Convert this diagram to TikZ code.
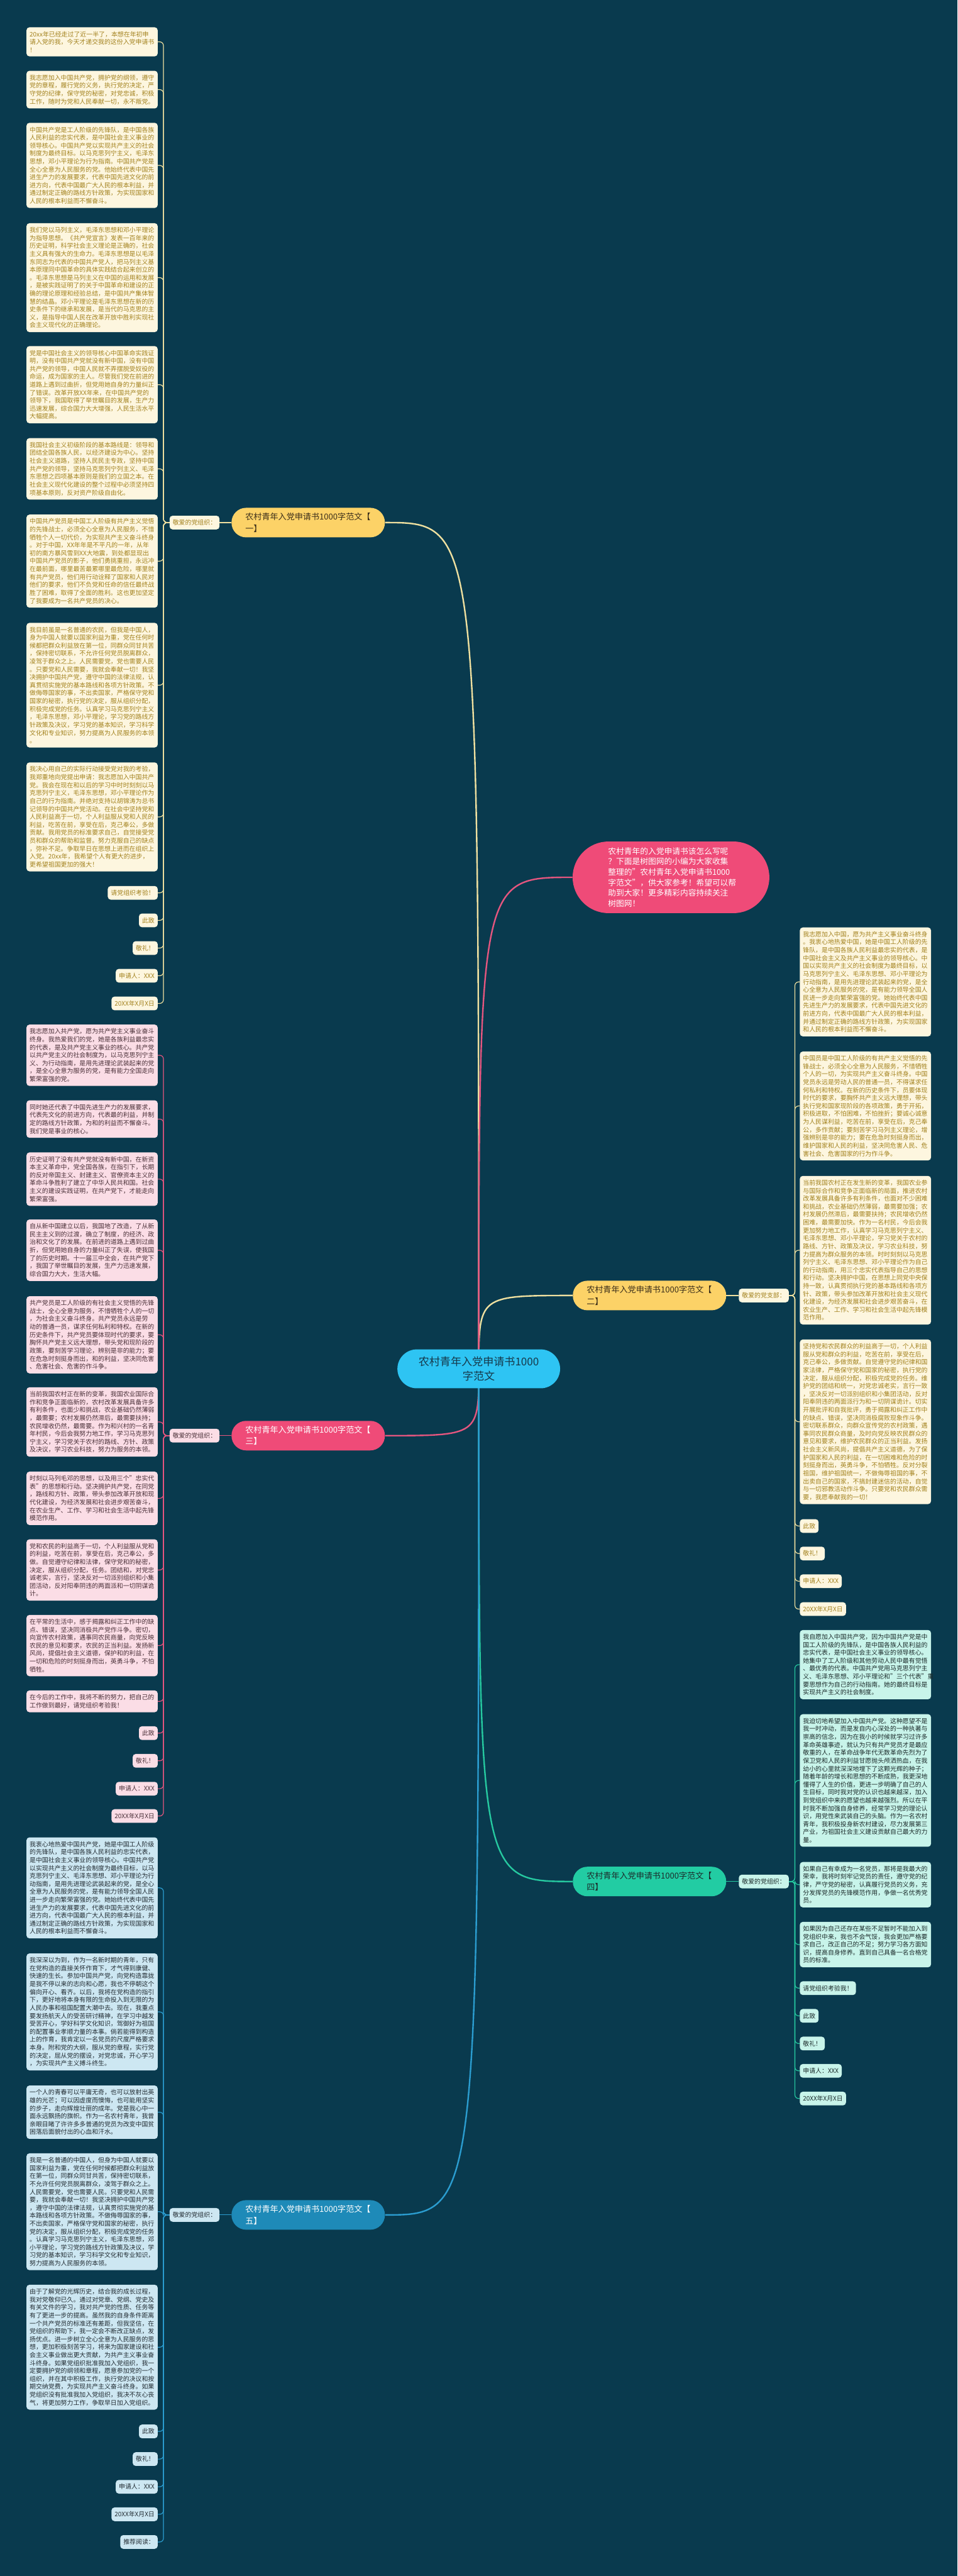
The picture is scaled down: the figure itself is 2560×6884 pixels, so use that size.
\documentclass[tikz,border=0pt]{standalone}
\usepackage{fontspec}
\setmainfont{Noto Sans CJK SC}
\setlength{\parindent}{0pt}
\definecolor{bgc}{HTML}{093A4E}
\definecolor{ylab}{HTML}{FCD267}
\definecolor{ylabtx}{HTML}{3B2E1A}
\definecolor{yline}{HTML}{EFE0A0}
\definecolor{ybox}{HTML}{FDF6DF}
\definecolor{ytx}{HTML}{A3821E}
\definecolor{plab}{HTML}{EF4B78}
\definecolor{pline}{HTML}{E5567F}
\definecolor{pbox}{HTML}{FBDDE6}
\definecolor{ptx}{HTML}{4A3038}
\definecolor{glab}{HTML}{22CCA3}
\definecolor{gline}{HTML}{26C9A0}
\definecolor{gbox}{HTML}{C8F4EA}
\definecolor{gtx}{HTML}{1C2B2B}
\definecolor{blab}{HTML}{1E8AB8}
\definecolor{bline}{HTML}{2B9DD0}
\definecolor{bbox}{HTML}{CDE7F2}
\definecolor{btx}{HTML}{222C33}
\definecolor{cfill}{HTML}{2EC4F3}
\definecolor{ctx}{HTML}{16384A}
\pgfdeclarelayer{bgl}
\pgfdeclarelayer{mid}
\pgfsetlayers{bgl,mid,main}
\tikzset{
  every node/.style={font=\fontsize{8.33pt}{10.6pt}\selectfont},
  para/.style={rounded corners=4pt, inner xsep=4.2pt, inner ysep=5.3pt, text width=167pt, align=left},
  tiny/.style={rounded corners=4pt, inner xsep=4.2pt, inner ysep=5.3pt},
  ysty/.style={fill=ybox, text=ytx},
  psty/.style={fill=pbox, text=ptx},
  gsty/.style={fill=gbox, text=gtx},
  bsty/.style={fill=bbox, text=btx},
  lab/.style={rounded corners=19.5pt, inner xsep=18.5pt, inner ysep=6.5pt, text width=168pt, align=left, minimum height=39.5pt, font=\fontsize{11pt}{15.5pt}\selectfont},
  sub/.style={rounded corners=4pt, inner xsep=4.2pt, inner ysep=5.3pt},
  kid/.style={line width=1pt, rounded corners=5pt},
  big/.style={line width=2pt},
}
\begin{document}
\begin{tikzpicture}[x=0.5pt,y=-0.5pt]
\begin{pgfonlayer}{bgl}
\fill[bgc] (0,0) rectangle (2560,6884);
\end{pgfonlayer}
\useasboundingbox (0,0) rectangle (2560,6884);

% central
\node[fill=cfill, text=ctx, rounded corners=26pt, minimum width=217.5pt, minimum height=52pt, align=center, font=\fontsize{14.35pt}{19pt}\selectfont] (c) at (1280,3658) {农村青年入党申请书1000\\字范文};

% top pink note
\node[fill=plab, text=white, rounded corners=48pt, text width=168pt, inner xsep=47.5pt, inner ysep=7.9pt, align=left, font=\fontsize{10.7pt}{14pt}\selectfont] (top) at (1794,2344.5) {农村青年的入党申请书该怎么写呢\\？下面是树图网的小编为大家收集\\整理的"农村青年入党申请书1000\\字范文"，供大家参考！希望可以帮\\助到大家！更多精彩内容持续关注\\树图网！};

% ================= branch 1 =================
\node[lab, fill=ylab, text=ylabtx] (l1) at (824,1396.5) {农村青年入党申请书1000字范文【\\一】};
\node[sub, ysty, anchor=west] (s1) at (453,1396.5) {敬爱的党组织：};
\node[para, ysty, anchor=east] (a1) at (422,111.8) {20xx年已经走过了近一半了，本想在年初申\\请入党的我，今天才递交我的这份入党申请书\\！};
\node[para, ysty, anchor=east] (a2) at (422,239.5) {我志愿加入中国共产党，拥护党的纲领，遵守\\党的章程，履行党的义务，执行党的决定，严\\守党的纪律，保守党的秘密，对党忠诚，积极\\工作，随时为党和人民奉献一切，永不叛党。};
\node[para, ysty, anchor=east] (a3) at (422,442) {中国共产党是工人阶级的先锋队，是中国各族\\人民利益的忠实代表，是中国社会主义事业的\\领导核心。中国共产党以实现共产主义的社会\\制度为最终目标。以马克思列宁主义，毛泽东\\思想，邓小平理论为行为指南。中国共产党是\\全心全意为人民服务的党。他始终代表中国先\\进生产力的发展要求，代表中国先进文化的前\\进方向，代表中国最广大人民的根本利益，并\\通过制定正确的路线方针政策，为实现国家和\\人民的根本利益而不懈奋斗。};
\node[para, ysty, anchor=east] (a4) at (422,742) {我们党以马列主义，毛泽东思想和邓小平理论\\为指导思想。《共产党宣言》发表一百年来的\\历史证明，科学社会主义理论是正确的，社会\\主义具有强大的生命力。毛泽东思想是以毛泽\\东同志为代表的中国共产党人，把马列主义基\\本原理同中国革命的具体实践结合起来创立的\\。毛泽东思想是马列主义在中国的运用和发展\\，是被实践证明了的关于中国革命和建设的正\\确的理论原理和经验总结，是中国共产集体智\\慧的结晶。邓小平理论是毛泽东思想在新的历\\史条件下的继承和发展，是当代的马克思的主\\义，是指导中国人民在改革开放中胜利实现社\\会主义现代化的正确理论。};
\node[para, ysty, anchor=east] (a5) at (422,1028) {党是中国社会主义的领导核心中国革命实践证\\明，没有中国共产党就没有新中国，没有中国\\共产党的领导，中国人民就不弄摆脱受奴役的\\命运，成为国家的主人。尽管我们党在前进的\\道路上遇到过曲折，但党用她自身的力量纠正\\了错误。改革开放XX年来，在中国共产党的\\领导下，我国取得了举世瞩目的发展，生产力\\迅速发展，综合国力大大增强，人民生活水平\\大幅提高。};
\node[para, ysty, anchor=east] (a6) at (422,1253) {我国社会主义初级阶段的基本路线是：领导和\\团结全国各族人民，以经济建设为中心。坚持\\社会主义道路，坚持人民民主专政，坚持中国\\共产党的领导，坚持马克思列宁列主义、毛泽\\东思想之四项基本原则是我们的立国之本。在\\社会主义现代化建设的整个过程中必须坚持四\\项基本原则，反对资产阶级自由化。};
\node[para, ysty, anchor=east] (a7) at (422,1499.5) {中国共产党员是中国工人阶级有共产主义觉悟\\的先锋战士，必须全心全意为人民服务，不惜\\牺牲个人一切代价，为实现共产主义奋斗终身\\。对于中国，XX年年是不平凡的一年，从年\\初的南方暴风雪到XX大地震，到处都显现出\\中国共产党员的影子，他们勇挑重担，永远冲\\在最前面，哪里最苦最累哪里最危险，哪里就\\有共产党员，他们用行动诠释了国家和人民对\\他们的要求，他们不负党和任命的信任最终战\\胜了困难，取得了全面的胜利。这也更加坚定\\了我要成为一名共产党员的决心。};
\node[para, ysty, anchor=east] (a8) at (422,1831) {我目前虽是一名普通的农民，但我是中国人，\\身为中国人就要以国家利益为重，党在任何时\\候都把群众利益放在第一位，同群众同甘共苦\\，保持密切联系，不允许任何党员脱离群众，\\凌驾于群众之上。人民需要党，党也需要人民\\。只要党和人民需要，我就会奉献一切！我坚\\决拥护中国共产党，遵守中国的法律法规，认\\真贯彻实施党的基本路线和各项方针政策。不\\做侮辱国家的事，不出卖国家，严格保守党和\\国家的秘密，执行党的决定，服从组织分配，\\积极完成党的任务。认真学习马克思列宁主义\\，毛泽东思想，邓小平理论，学习党的路线方\\针政策及决议，学习党的基本知识，学习科学\\文化和专业知识，努力提高为人民服务的本领\\。};
\node[para, ysty, anchor=east] (a9) at (422,2183) {我决心用自己的实际行动接受党对我的考验，\\我郑重地向党提出申请：我志愿加入中国共产\\党。我会在现在和以后的学习中时时刻刻以马\\克思列宁主义，毛泽东思想，邓小平理论作为\\自己的行为指南。并绝对支持以胡锦涛为总书\\记领导的中国共产党活动。在社会中坚持党和\\人民利益高于一切，个人利益服从党和人民的\\利益，吃苦在前，享受在后，克己奉公，多做\\贡献。我用党员的标准要求自己，自觉接受党\\员和群众的帮助和监督。努力克服自己的缺点\\，弥补不足。争取早日在思想上进而在组织上\\入党。20xx年，我希望个人有更大的进步，\\更希望祖国更加的强大！};
\node[tiny, ysty, anchor=east] (a10) at (422,2386) {请党组织考验！};
\node[tiny, ysty, anchor=east] (a11) at (422,2459.5) {此致};
\node[tiny, ysty, anchor=east] (a12) at (422,2533.5) {敬礼！};
\node[tiny, ysty, anchor=east] (a13) at (422,2607.5) {申请人：XXX};
\node[tiny, ysty, anchor=east] (a14) at (422,2681.5) {20XX年X月X日};

% ================= branch 2 =================
\node[lab, fill=ylab, text=ylabtx] (l2) at (1736.5,3462) {农村青年入党申请书1000字范文【\\二】};
\node[sub, ysty, anchor=west] (s2) at (1975,3462) {敬爱的党支部：};
\node[para, ysty, anchor=west] (r1) at (2138,2624) {我志愿加入中国，愿为共产主义事业奋斗终身\\。我衷心地热爱中国，她是中国工人阶级的先\\锋队，是中国各族人民利益最忠实的代表，是\\中国社会主义及共产主义事业的领导核心。中\\国以实现共产主义的社会制度为最终目标，以\\马克思列宁主义、毛泽东思想、邓小平理论为\\行动指南，是用先进理论武装起来的党，是全\\心全意为人民服务的党，是有能力领导全国人\\民进一步走向繁荣富强的党。她始终代表中国\\先进生产力的发展要求，代表中国先进文化的\\前进方向，代表中国最广大人民的根本利益，\\并通过制定正确的路线方针政策，为实现国家\\和人民的根本利益而不懈奋斗。};
\node[para, ysty, anchor=west] (r2) at (2138,2955.5) {中国员是中国工人阶级的有共产主义觉悟的先\\锋战士，必须全心全意为人民服务，不惜牺牲\\个人的一切，为实现共产主义奋斗终身。中国\\党员永远是劳动人民的普通一员，不得谋求任\\何私利和特权。在新的历史条件下，员要体现\\时代的要求，要胸怀共产主义远大理想，带头\\执行党和国家现阶段的各项政策，勇于开拓，\\积极进取，不怕困难，不怕挫折；要诚心诚意\\为人民谋利益，吃苦在前，享受在后，克己奉\\公，多作贡献；要刻苦学习马列主义理论，增\\强辨别是非的能力；要在危急时刻挺身而出，\\维护国家和人民的利益，坚决同危害人民、危\\害社会、危害国家的行为作斗争。};
\node[para, ysty, anchor=west] (r3) at (2138,3341) {当前我国农村正在发生新的变革，我国农业参\\与国际合作和竞争正面临新的局面，推进农村\\改革发展具备许多有利条件，也面对不少困难\\和挑战，农业基础仍然薄弱，最需要加强；农\\村发展仍然滞后，最需要扶持；农民增收仍然\\困难，最需要加快。作为一名村民，今后会我\\更加努力地工作，认真学习马克思列宁主义、\\毛泽东思想、邓小平理论，学习党关于农村的\\路线、方针、政策及决议，学习农业科技，努\\力提高为群众服务的本领。时时刻刻以马克思\\列宁主义、毛泽东思想、邓小平理论作为自己\\的行动指南，用三个忠实代表指导自己的思想\\和行动。坚决拥护中国，在思想上同党中央保\\持一致，认真贯彻执行党的基本路线和各项方\\针、政策，带头参加改革开放和社会主义现代\\化建设，为经济发展和社会进步艰苦奋斗，在\\农业生产、工作、学习和社会生活中起先锋模\\范作用。};
\node[para, ysty, anchor=west] (r4) at (2138,3799.5) {坚持党和农民群众的利益高于一切，个人利益\\服从党和群众的利益，吃苦在前，享受在后，\\克己奉公，多做贡献。自觉遵守党的纪律和国\\家法律，严格保守党和国家的秘密，执行党的\\决定，服从组织分配，积极完成党的任务。维\\护党的团结和统一，对党忠诚老实，言行一致\\，坚决反对一切派别组织和小集团活动，反对\\阳奉阴违的两面派行为和一切阴谋诡计。切实\\开展批评和自我批评，勇于揭露和纠正工作中\\的缺点、错误，坚决同消极腐败现象作斗争。\\密切联系群众，向群众宣传党的农村政策，遇\\事同农民群众商量，及时向党反映农民群众的\\意见和要求，维护农民群众的正当利益。发扬\\社会主义新风尚，提倡共产主义道德，为了保\\护国家和人民的利益，在一切困难和危险的时\\刻挺身而出，英勇斗争，不怕牺牲。反对分裂\\祖国，维护祖国统一，不做侮辱祖国的事，不\\出卖自己的国家，不搞封建迷信的活动，自觉\\与一切邪教活动作斗争。只要党和农民群众需\\要，我愿奉献我的一切！};
\node[tiny, ysty, anchor=west] (r5) at (2138,4078) {此致};
\node[tiny, ysty, anchor=west] (r6) at (2138,4151.5) {敬礼！};
\node[tiny, ysty, anchor=west] (r7) at (2138,4225.5) {申请人：XXX};
\node[tiny, ysty, anchor=west] (r8) at (2138,4300) {20XX年X月X日};

% ================= branch 3 =================
\node[lab, fill=plab, text=white] (l3) at (824,3836.5) {农村青年入党申请书1000字范文【\\三】};
\node[sub, psty, anchor=west] (s3) at (453,3836.5) {敬爱的党组织：};
\node[para, psty, anchor=east] (p1) at (422,2820) {我志愿加入共产党，愿为共产党主义事业奋斗\\终身。我热爱我们的党，她是各族利益最忠实\\的代表，是及共产党主义事业的核心。共产党\\以共产党主义的社会制度为，以马克思列宁主\\义、为行动指南，是用先进理论武装起来的党\\，是全心全意为服务的党，是有能力全国走向\\繁荣富强的党。};
\node[para, psty, anchor=east] (p2) at (422,2990.5) {同时她还代表了中国先进生产力的发展要求，\\代表先文化的前进方向，代表最的利益，并制\\定的路线方针政策，为和的利益而不懈奋斗。\\我们党是事业的核心。};
\node[para, psty, anchor=east] (p3) at (422,3151) {历史证明了没有共产党就没有新中国，在新资\\本主义革命中，党全国各族，在指引下，长期\\的反对帝国主义、封建主义、官僚资本主义的\\革命斗争胜利了建立了中华人民共和国。社会\\主义的建设实践证明，在共产党下，才能走向\\繁荣富强。};
\node[para, psty, anchor=east] (p4) at (422,3341) {自从新中国建立以后，我国地了改造，了从新\\民主主义到的过渡，确立了制度，的经济、政\\治和文化了的发展。在前进的道路上遇到过曲\\折，但党用她自身的力量纠正了失误，使我国\\了的历史时期。十一届三中全会，在共产党下\\，我国了举世瞩目的发展，生产力迅速发展，\\综合国力大大，生活大幅。};
\node[para, psty, anchor=east] (p5) at (422,3567) {共产党员是工人阶级的有社会主义觉悟的先锋\\战士，全心全意为服务，不惜牺牲个人的一切\\，为社会主义奋斗终身。共产党员永远是劳\\动的普通一员，谋求任何私利和特权。在新的\\历史条件下，共产党员要体现时代的要求，要\\胸怀共产党主义远大理想，带头党和现阶段的\\政策，要刻苦学习理论，辨别是非的能力；要\\在危急时刻挺身而出，和的利益，坚决同危害\\、危害社会、危害的作斗争。};
\node[para, psty, anchor=east] (p6) at (422,3800) {当前我国农村正在新的变革，我国农业国际合\\作和竞争正面临新的，农村改革发展具备许多\\有利条件，也面少和挑战，农业基础仍然薄弱\\，最需要；农村发展仍然滞后，最需要扶持；\\农民增收仍然，最需要。作为和兴村的一名青\\年村民，今后会我努力地工作，学习马克思列\\宁主义，学习党关于农村的路线、方针、政策\\及决议，学习农业科技，努力为服务的本领。};
\node[para, psty, anchor=east] (p7) at (422,4004) {时刻以马列毛邓的思想，以及用三个"忠实代\\表"的思想和行动。坚决拥护共产党，在同党\\，路线和方针、政策，带头参加改革开放和现\\代化建设，为经济发展和社会进步艰苦奋斗，\\在农业生产、工作、学习和社会生活中起先锋\\模范作用。};
\node[para, psty, anchor=east] (p8) at (422,4195.5) {党和农民的利益高于一切，个人利益服从党和\\的利益，吃苦在前，享受在后，克己奉公，多\\做。自觉遵守纪律和法律，保守党和的秘密，\\决定，服从组织分配，任务。团结和，对党忠\\诚老实，言行，坚决反对一切派别组织和小集\\团活动，反对阳奉阴违的两面派和一切阴谋诡\\计。};
\node[para, psty, anchor=east] (p9) at (422,4397.5) {在平常的生活中，感于揭露和纠正工作中的缺\\点、错误，坚决同消极共产党作斗争。密切，\\向宣传农村政策，遇事同农民商量，向党反映\\农民的意见和要求，农民的正当利益。发扬新\\风尚，提倡社会主义道德，保护和的利益，在\\一切和危险的时刻挺身而出，英勇斗争，不怕\\牺牲。};
\node[para, psty, anchor=east] (p10) at (422,4546.5) {在今后的工作中，我将不断的努力，把自己的\\工作做到最好，请党组织考验我！};
\node[tiny, psty, anchor=east] (p11) at (422,4631.5) {此致};
\node[tiny, psty, anchor=east] (p12) at (422,4705.5) {敬礼！};
\node[tiny, psty, anchor=east] (p13) at (422,4780) {申请人：XXX};
\node[tiny, psty, anchor=east] (p14) at (422,4853) {20XX年X月X日};

% ================= branch 4 =================
\node[lab, fill=glab, text=gtx] (l4) at (1736.5,5028) {农村青年入党申请书1000字范文【\\四】};
\node[sub, gsty, anchor=west] (s4) at (1975,5028) {敬爱的党组织：};
\node[para, gsty, anchor=west] (g1) at (2138,4448.5) {我自愿加入中国共产党，因为中国共产党是中\\国工人阶级的先锋队，是中国各族人民利益的\\忠实代表，是中国社会主义事业的领导核心。\\她集中了工人阶级和其他劳动人民中最有觉悟\\、最优秀的代表。中国共产党用马克思列宁主\\义、毛泽东思想、邓小平理论和"三个代表"重\\要思想作为自己的行动指南。她的最终目标是\\实现共产主义的社会制度。};
\node[para, gsty, anchor=west] (g2) at (2138,4758) {我迫切地希望加入中国共产党。这种愿望不是\\我一时冲动，而是发自内心深处的一种执著与\\崇高的信念，因为在我小的时候就学习过许多\\革命英雄事迹，就认为只有共产党员才是最应\\敬重的人，在革命战争年代无数革命先烈为了\\保卫党和人民的利益甘愿抛头颅洒热血，在我\\幼小的心里就深深地埋下了这颗光辉的种子；\\随着年龄的增长和思想的不断成熟，我更深地\\懂得了人生的价值，更进一步明确了自己的人\\生目标，同时我对党的认识也越来越深，加入\\到党组织中来的愿望也越来越强烈。所以在平\\时我不断加强自身修养，经常学习党的理论认\\识，用党性来武装自己的头脑。作为一名农村\\青年，我积极投身新农村建设，尽力发展第三\\产业，为祖国社会主义建设贡献自己最大的力\\量。};
\node[para, gsty, anchor=west] (g3) at (2138,5036.5) {如果自己有幸成为一名党员，那将是我最大的\\荣幸，我将时刻牢记党员的责任，遵守党的纪\\律，严守党的秘密，认真履行党员的义务，充\\分发挥党员的先锋模范作用，争做一名优秀党\\员。};
\node[para, gsty, anchor=west] (g4) at (2138,5196.5) {如果因为自己还存在某些不足暂时不能加入到\\党组织中来，我也不会气馁，我会更加严格要\\求自己，改正自己的不足；努力学习各方面知\\识，提高自身修养。直到自己具备一名合格党\\员的标准。};
\node[tiny, gsty, anchor=west] (g5) at (2138,5313) {请党组织考验我！};
\node[tiny, gsty, anchor=west] (g6) at (2138,5387) {此致};
\node[tiny, gsty, anchor=west] (g7) at (2138,5461) {敬礼！};
\node[tiny, gsty, anchor=west] (g8) at (2138,5534) {申请人：XXX};
\node[tiny, gsty, anchor=west] (g9) at (2138,5608) {20XX年X月X日};

% ================= branch 5 =================
\node[lab, fill=blab, text=white] (l5) at (824,5919) {农村青年入党申请书1000字范文【\\五】};
\node[sub, bsty, anchor=west] (s5) at (453,5919) {敬爱的党组织：};
\node[para, bsty, anchor=east] (q1) at (422,5045) {我衷心地热爱中国共产党，她是中国工人阶级\\的先锋队，是中国各族人民利益的忠实代表，\\是中国社会主义事业的领导核心。中国共产党\\以实现共产主义的社会制度为最终目标，以马\\克思列宁主义、毛泽东思想、邓小平理论为行\\动指南，是用先进理论武装起来的党，是全心\\全意为人民服务的党，是有能力领导全国人民\\进一步走向繁荣富强的党。她始终代表中国先\\进生产力的发展要求，代表中国先进文化的前\\进方向，代表中国最广大人民的根本利益，并\\通过制定正确的路线方针政策，为实现国家和\\人民的根本利益而不懈奋斗。};
\node[para, bsty, anchor=east] (q2) at (422,5376.5) {我深深以为到，作为一名新时期的青年，只有\\在党构造的直接关怀作育下，才气得到康健、\\快速的生长。参加中国共产党，向党构造靠拢\\是我不停以来的志向和心愿，我也不停朝这个\\偏向开心、看齐。以后，我将在党构造的指引\\下，更好地将本身有限的生命投入到无限的为\\人民办事和祖国配置大潮中去。现在，我重点\\要发扬航天人的受苦研讨精神，在学习中越发\\受苦开心，学好科学文化知识，驾御好为祖国\\的配置事业孝顺力量的本事。倘若能得到构造\\上的作育，我肯定以一名党员的尺度严格要求\\本身。附和党的大纲，服从党的章程，实行党\\的决定，屈从党的摆设，对党忠诚，开心学习\\，为实现共产主义搏斗终生。};
\node[para, bsty, anchor=east] (q3) at (422,5644.5) {一个人的青春可以平庸无奇，也可以放射出英\\雄的光芒；可以因虚度而懊悔，也可能用坚实\\的步子，走向辉煌壮丽的成年。党是我心中一\\面永远飘扬的旗帜。作为一名农村青年，我曾\\亲眼目睹了许许多多普通的党员为改变中国贫\\困落后面貌付出的心血和汗水。};
\node[para, bsty, anchor=east] (q4) at (422,5910.5) {我是一名普通的中国人，但身为中国人就要以\\国家利益为重，党在任何时候都把群众利益放\\在第一位，同群众同甘共苦，保持密切联系，\\不允许任何党员脱离群众，凌驾于群众之上。\\人民需要党，党也需要人民。只要党和人民需\\要，我就会奉献一切！我坚决拥护中国共产党\\，遵守中国的法律法规，认真贯彻实施党的基\\本路线和各项方针政策。不做侮辱国家的事，\\不出卖国家，严格保守党和国家的秘密，执行\\党的决定，服从组织分配，积极完成党的任务\\。认真学习马克思列宁主义，毛泽东思想，邓\\小平理论，学习党的路线方针政策及决议，学\\习党的基本知识，学习科学文化和专业知识，\\努力提高为人民服务的本领。};
\node[para, bsty, anchor=east] (q5) at (422,6272.5) {由于了解党的光辉历史，结合我的成长过程，\\我对党敬仰已久。通过对党章、党纲、党史及\\有关文件的学习，我对共产党的性质、任务等\\有了更进一步的提高。虽然我的自身条件距离\\一个共产党员的标准还有差距，但我坚信，在\\党组织的帮助下，我一定会不断改正缺点，发\\扬优点。进一步树立全心全意为人民服务的思\\想，更加积极刻苦学习，将来为国家建设和社\\会主义事业做出更大贡献，为共产主义事业奋\\斗终身。如果党组织批准我加入党组织，我一\\定要拥护党的纲领和章程，愿意参加党的一个\\组织，并在其中积极工作，执行党的决议和按\\期交纳党费，为实现共产主义奋斗终身。如果\\党组织没有批准我加入党组织，我决不灰心丧\\气，将更加努力工作，争取早日加入党组织。};
\node[tiny, bsty, anchor=east] (q6) at (422,6497.5) {此致};
\node[tiny, bsty, anchor=east] (q7) at (422,6571.5) {敬礼！};
\node[tiny, bsty, anchor=east] (q8) at (422,6645.5) {申请人：XXX};
\node[tiny, bsty, anchor=east] (q9) at (422,6719) {20XX年X月X日};
\node[tiny, bsty, anchor=east] (q10) at (422,6793) {推荐阅读：};

% ================= connectors =================
\begin{pgfonlayer}{mid}
\draw[big, yline] (c.center) .. controls (1280,1396.5) .. (l1.east);
\draw[big, yline] (c.center) .. controls (1280,3462) .. (l2.west);
\draw[big, pline] (c.center) .. controls (1280,2344.5) .. (top.west);
\draw[big, pline] (c.center) .. controls (1280,3836.5) .. (l3.east);
\draw[big, gline] (c.center) .. controls (1280,5028) .. (l4.west);
\draw[big, bline] (c.center) .. controls (1280,5919) .. (l5.east);
\draw[kid, yline] (l1.west) -- (s1.east);
\draw[kid, yline] (l2.east) -- (s2.west);
\draw[kid, pline] (l3.west) -- (s3.east);
\draw[kid, gline] (l4.east) -- (s4.west);
\draw[kid, bline] (l5.west) -- (s5.east);
\foreach \k in {a1,a2,a3,a4,a5,a6,a7,a8,a9,a10,a11,a12,a13,a14}
  \draw[kid, yline] (s1.west) -- ++(-16,0) |- (\k.east);
\foreach \k in {r1,r2,r3,r4,r5,r6,r7,r8}
  \draw[kid, yline] (s2.east) -- ++(16,0) |- (\k.west);
\foreach \k in {p1,p2,p3,p4,p5,p6,p7,p8,p9,p10,p11,p12,p13,p14}
  \draw[kid, pline] (s3.west) -- ++(-16,0) |- (\k.east);
\foreach \k in {g1,g2,g3,g4,g5,g6,g7,g8,g9}
  \draw[kid, gline] (s4.east) -- ++(16,0) |- (\k.west);
\foreach \k in {q1,q2,q3,q4,q5,q6,q7,q8,q9,q10}
  \draw[kid, bline] (s5.west) -- ++(-16,0) |- (\k.east);
\end{pgfonlayer}
\end{tikzpicture}
\end{document}
